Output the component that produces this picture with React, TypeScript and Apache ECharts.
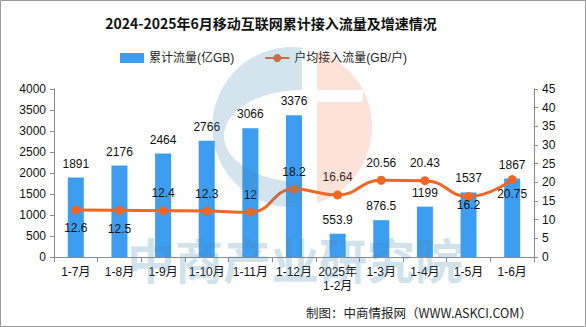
import React, { useEffect, useRef } from "react";
import * as echarts from "echarts";

const categories = ["1-7月", "1-8月", "1-9月", "1-10月", "1-11月", "1-12月", "2025年\n1-2月", "1-3月", "1-4月", "1-5月", "1-6月"];
const totalTraffic = [1891, 2176, 2464, 2766, 3066, 3376, 553.9, 876.5, 1199, 1537, 1867];
const perUserTraffic = [12.6, 12.5, 12.4, 12.3, 12, 18.2, 16.64, 20.56, 20.43, 16.2, 20.75];
const leftTicks = { min: 0, max: 4000, interval: 500 };
const rightTicks = { min: 0, max: 45, interval: 5 };

const titleText = "2024-2025年6月移动互联网累计接入流量及增速情况";
const barName = "累计流量(亿GB)";
const lineName = "户均接入流量(GB/户)";
const sourceText = "制图：中商情报网（WWW.ASKCI.COM）";
const watermarkText = "中商产业研究院";

// label placement for the line (style only)
const linePlacement: [string, number][] = [
  ["bottom", 8], ["bottom", 8], ["top", 7], ["top", 7], ["top", 7], ["top", 7],
  ["top", 7], ["top", 7], ["top", 7], ["bottom", -2], ["bottom", 4],
];

const BLUE_PATH =
  "M302 47.6 A80 80 0 1 0 302 206.4 L302 182 A78 46 0 1 1 302 90 Z";
const ORANGE_PATH =
  "M317 51 A80 80 0 0 1 317 203 Z M317 90 L317 102 L363 102 L363 90 Z";

let registered = false;
function registerLogo() {
  if (registered) return;
  registered = true;
  echarts.graphic.registerShape("logoBlue", echarts.graphic.extendPath(BLUE_PATH, {}) as any);
  echarts.graphic.registerShape("logoOrange", echarts.graphic.extendPath(ORANGE_PATH, {}) as any);
}

const FONT = "'Liberation Sans', 'Noto Sans CJK SC', sans-serif";

export default function App() {
  const ref = useRef<HTMLDivElement>(null);
  useEffect(() => {
    if (!ref.current) return;
    registerLogo();
    const chart = echarts.init(ref.current, null, { renderer: "svg" });
    const axisLine = { show: true, lineStyle: { color: "#8c8c8c", width: 1 } };
    const plain = (v: number) => String(v);
    chart.setOption({
      animation: false,
      backgroundColor: "#fff",
      textStyle: { fontFamily: FONT },
      title: {
        text: titleText,
        left: 266,
        textAlign: "center",
        top: 11,
        textStyle: { fontSize: 14, fontWeight: "bold", color: "#111", fontFamily: "'Noto Sans CJK SC', sans-serif" },
      },
      legend: {
        left: 115,
        top: 47,
        itemGap: 30,
        itemWidth: 24,
        itemHeight: 10,
        textStyle: { fontSize: 12, color: "#222", fontFamily: FONT },
        data: [
          { name: barName, icon: "rect" },
          { name: lineName },
        ],
      },
      grid: { left: 54, right: 52, top: 89, bottom: 70, containLabel: false },
      xAxis: {
        type: "category",
        data: categories,
        axisLine,
        axisTick: { show: true, length: 5, lineStyle: { color: "#8c8c8c" } },
        axisLabel: { color: "#111", fontSize: 12, interval: 0, margin: 8, lineHeight: 14 },
      },
      yAxis: [
        {
          type: "value",
          ...leftTicks,
          axisLine,
          axisTick: { show: true, length: 4, lineStyle: { color: "#8c8c8c" } },
          splitLine: { show: false },
          axisLabel: { color: "#111", fontSize: 12, margin: 8, formatter: plain },
        },
        {
          type: "value",
          ...rightTicks,
          axisLine,
          axisTick: { show: true, length: 4, lineStyle: { color: "#8c8c8c" } },
          splitLine: { show: false },
          axisLabel: { color: "#111", fontSize: 12, margin: 8, formatter: plain },
        },
      ],
      series: [
        {
          name: barName,
          type: "bar",
          data: totalTraffic,
          barWidth: 16,
          itemStyle: { color: "#3d9df0" },
          label: { show: true, position: "top", distance: 8, color: "#111", fontSize: 12 },
        },
        {
          name: lineName,
          type: "line",
          yAxisIndex: 1,
          smooth: 0.5,
          symbol: "circle",
          symbolSize: 9,
          lineStyle: { color: "#f26522", width: 3 },
          itemStyle: { color: "#f26522" },
          data: perUserTraffic.map((v, i) => ({
            value: v,
            label: {
              show: true,
              position: linePlacement[i][0],
              distance: linePlacement[i][1],
              color: "#111",
              fontSize: 12,
            },
          })),
        },
      ],
      graphic: [
        {
          type: "rect",
          z: 200,
          silent: true,
          shape: { x: 0.5, y: 0.5, width: 585, height: 326 },
          style: { fill: "none", stroke: "#9a9a9a", lineWidth: 1 },
        },
        {
          type: "logoBlue",
          z: 100,
          silent: true,
          style: { fill: "rgba(70,140,180,0.23)" },
        },
        {
          type: "logoOrange",
          z: 100,
          silent: true,
          style: { fill: "rgba(240,110,60,0.2)" },
        },
        {
          type: "text",
          z: 100,
          silent: true,
          x: 127,
          y: 258,
          style: {
            text: watermarkText,
            fontSize: 48,
            fontWeight: "bold",
            fontFamily: "'Noto Sans CJK SC', sans-serif",
            fill: "rgba(70,140,180,0.25)",
            textAlign: "left",
            textVerticalAlign: "middle",
          },
        },
        {
          type: "text",
          z: 100,
          silent: true,
          x: 306,
          y: 312,
          style: {
            text: sourceText,
            fontSize: 12.5,
            fontFamily: "'Noto Sans CJK SC', sans-serif",
            fill: "#222",
            textAlign: "left",
            textVerticalAlign: "middle",
          },
        },
      ],
    });
    return () => chart.dispose();
  }, []);
  return (
    <div
      ref={ref}
      style={{ position: "absolute", left: 0, top: 0, width: 586, height: 327 }}
    />
  );
}
